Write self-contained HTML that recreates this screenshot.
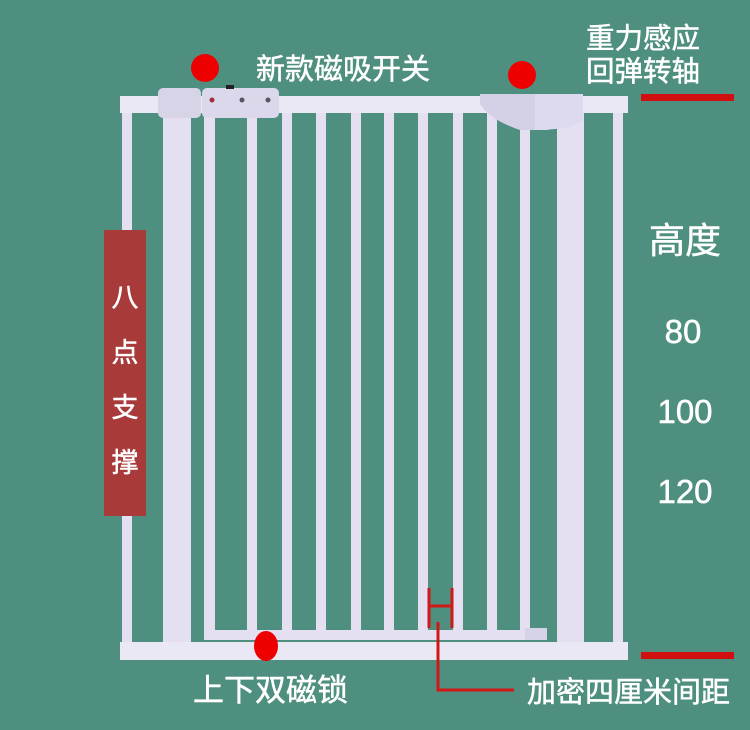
<!DOCTYPE html>
<html><head><meta charset="utf-8"><style>
html,body{margin:0;padding:0;background:#4e8f80;}
svg{display:block}
text{font-family:"Liberation Sans","Noto Sans CJK SC",sans-serif;fill:#fff;stroke:#fff;stroke-width:0.5;}
</style></head><body>
<svg width="750" height="730" viewBox="0 0 750 730" xmlns="http://www.w3.org/2000/svg">
<rect width="750" height="730" fill="#4e8f80"/>
<g fill="#e4e0f2">
<rect x="122" y="110" width="10" height="535"/>
<rect x="613" y="110" width="10" height="535"/>
<rect x="163" y="110" width="28" height="535"/>
<rect x="557" y="110" width="27" height="535"/>
<rect x="204" y="110" width="11" height="525"/>
<rect x="247" y="110" width="10" height="525"/>
<rect x="282" y="110" width="10" height="525"/>
<rect x="316" y="110" width="10" height="525"/>
<rect x="351" y="110" width="10" height="525"/>
<rect x="384" y="110" width="10" height="525"/>
<rect x="418" y="110" width="10" height="525"/>
<rect x="453" y="110" width="10" height="525"/>
<rect x="487" y="110" width="10" height="525"/>
<rect x="520" y="110" width="10" height="525"/>
<rect x="120" y="96" width="508" height="17" fill="#ebe8f6"/>
<rect x="120" y="642" width="508" height="18" fill="#ebe8f6"/>
<rect x="204" y="630" width="340" height="10"/>
</g>
<rect x="525" y="628" width="22" height="12" fill="#d6d2e8"/>
<rect x="158" y="88" width="43" height="30" rx="5" fill="#d8d4e8"/>
<rect x="202" y="88" width="77" height="30" rx="5" fill="#dcd8ec"/>
<circle cx="212" cy="100" r="2.5" fill="#a03040"/>
<circle cx="242" cy="100" r="2.5" fill="#556"/>
<circle cx="268" cy="100" r="2.5" fill="#556"/>
<rect x="226" y="85" width="8" height="4" fill="#222"/>
<path d="M480 94 L548 94 L548 130 L520 130 Q490 120 480 104 Z" fill="#d4d0e6"/>
<path d="M535 94 L583 94 L583 120 Q570 130 535 130 Z" fill="#ddd9ee"/>
<circle cx="205" cy="68" r="14" fill="#e00"/>
<circle cx="522" cy="75" r="14" fill="#e00"/>
<ellipse cx="266" cy="646" rx="12" ry="15" fill="#e00"/>
<rect x="641" y="94" width="93" height="7" fill="#d01010"/>
<rect x="641" y="652" width="93" height="7" fill="#d01010"/>
<g stroke="#d01818" stroke-width="3" fill="none">
<line x1="429" y1="588" x2="429" y2="628"/>
<line x1="452" y1="588" x2="452" y2="628"/>
<line x1="429" y1="606" x2="452" y2="606"/>
<polyline points="438,622 438,690 514,690"/>
</g>
<rect x="104" y="230" width="42" height="286" fill="#a83a3a"/>
<text x="125" y="307" font-size="27" text-anchor="middle">八</text>
<text x="125" y="362" font-size="27" text-anchor="middle">点</text>
<text x="125" y="417" font-size="27" text-anchor="middle">支</text>
<text x="125" y="472" font-size="27" text-anchor="middle">撑</text>
<text x="256" y="79" font-size="29">新款磁吸开关</text>
<text x="586" y="48" font-size="28.5">重力感应</text>
<text x="586" y="81" font-size="28.5">回弹转轴</text>
<text x="685" y="253" font-size="36" text-anchor="middle">高度</text>
<text x="683" y="343" font-size="33" text-anchor="middle">80</text>
<text x="685" y="423" font-size="33" text-anchor="middle">100</text>
<text x="685" y="503" font-size="33" text-anchor="middle">120</text>
<text x="193" y="701" font-size="31">上下双磁锁</text>
<text x="527" y="702" font-size="29">加密四厘米间距</text>
</svg>
</body></html>
